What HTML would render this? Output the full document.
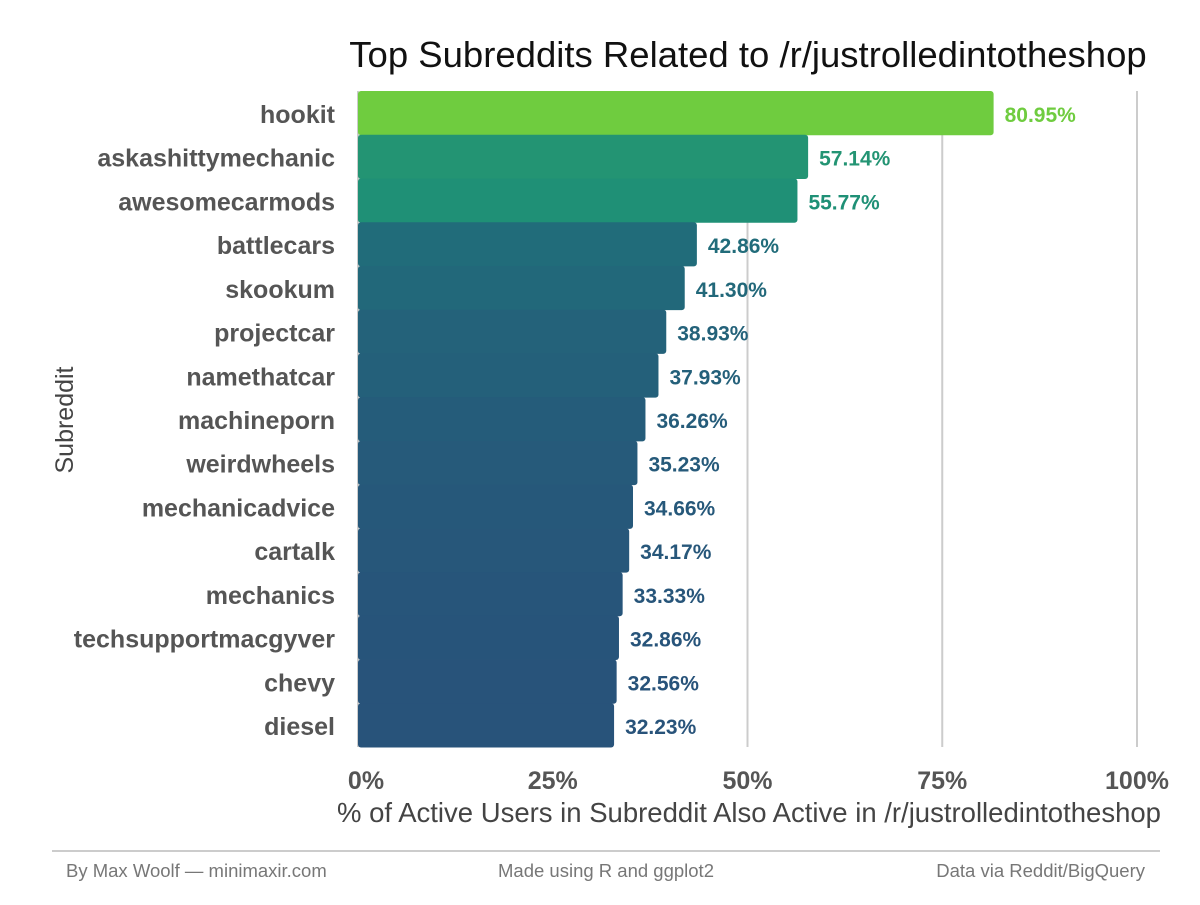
<!DOCTYPE html>
<html><head><meta charset="utf-8"><style>
body{margin:0;background:#fff;}
svg text{font-family:"Liberation Sans Narrow","Liberation Sans",sans-serif;}
</style></head><body>
<svg id="chart" width="1200" height="900" xmlns="http://www.w3.org/2000/svg">
<text x="748" y="67" text-anchor="middle" font-size="36.5" fill="#111" style="font-family:'Liberation Sans',sans-serif">Top Subreddits Related to /r/justrolledintotheshop</text>
<g id="grid"></g><g id="bars"></g><g id="labels"></g><g id="xticks"></g>
<text transform="translate(73,420) rotate(-90)" text-anchor="middle" font-size="25" fill="#444" style="font-family:'Liberation Sans',sans-serif">Subreddit</text>
<text x="749" y="822" text-anchor="middle" font-size="27.5" fill="#444" style="font-family:'Liberation Sans',sans-serif">% of Active Users in Subreddit Also Active in /r/justrolledintotheshop</text>
<line x1="52" x2="1160" y1="851" y2="851" stroke="#bbb" stroke-width="1.5"/>
<text x="66" y="877" font-size="18.5" fill="#777" style="font-family:'Liberation Sans',sans-serif">By Max Woolf — minimaxir.com</text>
<text x="606" y="877" text-anchor="middle" font-size="18.5" fill="#777" style="font-family:'Liberation Sans',sans-serif">Made using R and ggplot2</text>
<text x="1145" y="877" text-anchor="end" font-size="18.5" fill="#777" style="font-family:'Liberation Sans',sans-serif">Data via Reddit/BigQuery</text>
</svg>
<script>
const categories=["hookit","askashittymechanic","awesomecarmods","battlecars","skookum","projectcar","namethatcar","machineporn","weirdwheels","mechanicadvice","cartalk","mechanics","techsupportmacgyver","chevy","diesel"];
const values=[80.95,57.14,55.77,42.86,41.30,38.93,37.93,36.26,35.23,34.66,34.17,33.33,32.86,32.56,32.23];
const ticks=[0,25,50,75,100];
const tickLabels=["0%","25%","50%","75%","100%"];
const NS="http://www.w3.org/2000/svg";
const X0=358,PX_PER=7.79,PLOT_TOP=91,STEP=(747-91)/15;
const xs=v=>X0+v*PX_PER;
const ys=i=>PLOT_TOP+i*STEP;
function mk(t,a,p){const e=document.createElementNS(NS,t);for(const k in a)e.setAttribute(k,a[k]);p.appendChild(e);return e;}
const colorStops=[[32,[40,82,122]],[43,[33,108,122]],[56,[31,145,118]],[81,[111,204,63]]];
function color(v){const s=colorStops;if(v<=s[0][0])return`rgb(${s[0][1]})`;for(let i=1;i<s.length;i++){if(v<=s[i][0]){const t=(v-s[i-1][0])/(s[i][0]-s[i-1][0]);const c=s[i-1][1].map((c0,j)=>Math.round(c0+(s[i][1][j]-c0)*t));return`rgb(${c})`;}}return`rgb(${s[s.length-1][1]})`;}
const gG=document.getElementById('grid'),gB=document.getElementById('bars'),gL=document.getElementById('labels'),gX=document.getElementById('xticks');
ticks.forEach((t,i)=>{
 const ln=mk('line',{x1:xs(t),x2:xs(t),y1:91,y2:747,stroke:'#ccc','stroke-width':2},gG);
 
 
 const tx=mk('text',{x:xs(t)+(i==0?8:0),y:789,'text-anchor':'middle','font-size':25,'font-weight':'bold',fill:'#555'},gX);
 tx.textContent=tickLabels[i];
 
 
});
categories.forEach((c,i)=>{
 const v=values[i],col=color(v),y=ys(i);
 const r=mk('rect',{x:X0,y:y,width:xs(v)-X0+5,height:STEP+0.5,rx:3,fill:col},gB);
 
 
 const cl=mk('text',{x:335,y:y+STEP/2+10,'text-anchor':'end','font-size':25,'font-weight':'bold',fill:'#555'},gL);
 cl.textContent=c;
 
 
 const vl=mk('text',{x:xs(v)+16,y:y+STEP/2+9,'font-size':21,'font-weight':'bold',fill:col},gL);
 vl.textContent=v.toFixed(2)+'%';
 
 
});
</script>
</body></html>
